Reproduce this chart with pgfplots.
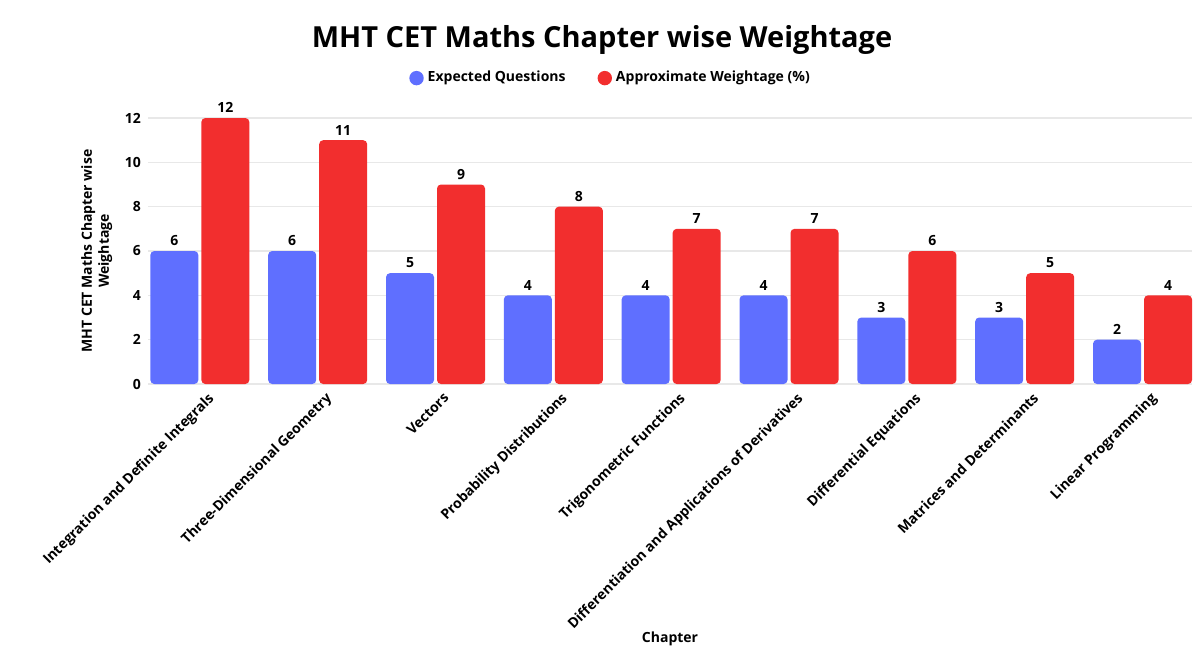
\documentclass[border=0pt]{standalone}
\usepackage{fontspec}
\setmainfont{Open Sans}
\usepackage{pgfplots}
\pgfplotsset{compat=1.18}
\definecolor{cblue}{HTML}{5F6FFF}
\definecolor{cred}{HTML}{F22E2E}
\definecolor{cgrid}{HTML}{E8E8E8}
\begin{document}
\begin{tikzpicture}
\path[use as bounding box] (-74pt,-138.5pt) rectangle (526pt,192pt);
\begin{axis}[
  at={(0pt,0pt)}, anchor=south west,
  scale only axis, width=522pt, height=133pt,
  ybar, bar width=24pt,
  xmin=-0.44, xmax=8.42, ymin=0, ymax=12,
  ytick={0,2,4,6,8,10,12},
  xtick={0,1,2,3,4,5,6,7,8},
  xticklabels={Integration and Definite Integrals,Three-Dimensional Geometry,Vectors,Probability Distributions,Trigonometric Functions,Differentiation and Applications of Derivatives,Differential Equations,Matrices and Determinants,Linear Programming},
  xticklabel style={rotate=45, anchor=north east, font=\fontsize{7}{8}\selectfont\bfseries, inner sep=1pt, yshift=-4pt, xshift=1pt},
  yticklabel style={font=\fontsize{7}{8}\selectfont\bfseries},
  /pgf/number format/assume math mode=true,
  major tick length=0pt,
  axis line style={draw=none},
  ymajorgrids, grid style={cgrid, line width=0.6pt},
  clip=false,
  nodes near coords,
  every node near coord/.append style={font=\fontsize{7}{8}\selectfont\bfseries, black, yshift=-1pt},
  xlabel={Chapter},
  xlabel style={at={(axis description cs:0.5,-0.959)}, anchor=center, font=\fontsize{7}{8}\selectfont\bfseries},
  ylabel={MHT CET Maths Chapter wise\\Weightage},
  ylabel style={at={(axis description cs:-0.049,0.5)}, anchor=center, align=center, font=\fontsize{7}{8.5}\selectfont\bfseries},
  legend style={at={(axis description cs:0.444,1.150)}, anchor=center, draw=none, legend columns=2, font=\fontsize{7}{8}\selectfont\bfseries, /tikz/every even column/.append style={column sep=14pt}},
]
\addplot[fill=cblue, draw=none, bar shift=-12.75pt, rounded corners=2pt,
  legend image code/.code={\fill[cblue] (0pt,0pt) circle (3.6pt);}]
  coordinates {(0,6) (1,6) (2,5) (3,4) (4,4) (5,4) (6,3) (7,3) (8,2)};
\addplot[fill=cred, draw=none, bar shift=12.75pt, rounded corners=2pt,
  legend image code/.code={\fill[cred] (0pt,0pt) circle (3.6pt);}]
  coordinates {(0,12) (1,11) (2,9) (3,8) (4,7) (5,7) (6,6) (7,5) (8,4)};
\legend{Expected Questions, Approximate Weightage (\%)}
\end{axis}
\node[font=\fontsize{14.5}{16}\selectfont\bfseries] at (227pt,172pt) {MHT CET Maths Chapter wise Weightage};
\end{tikzpicture}
\end{document}
